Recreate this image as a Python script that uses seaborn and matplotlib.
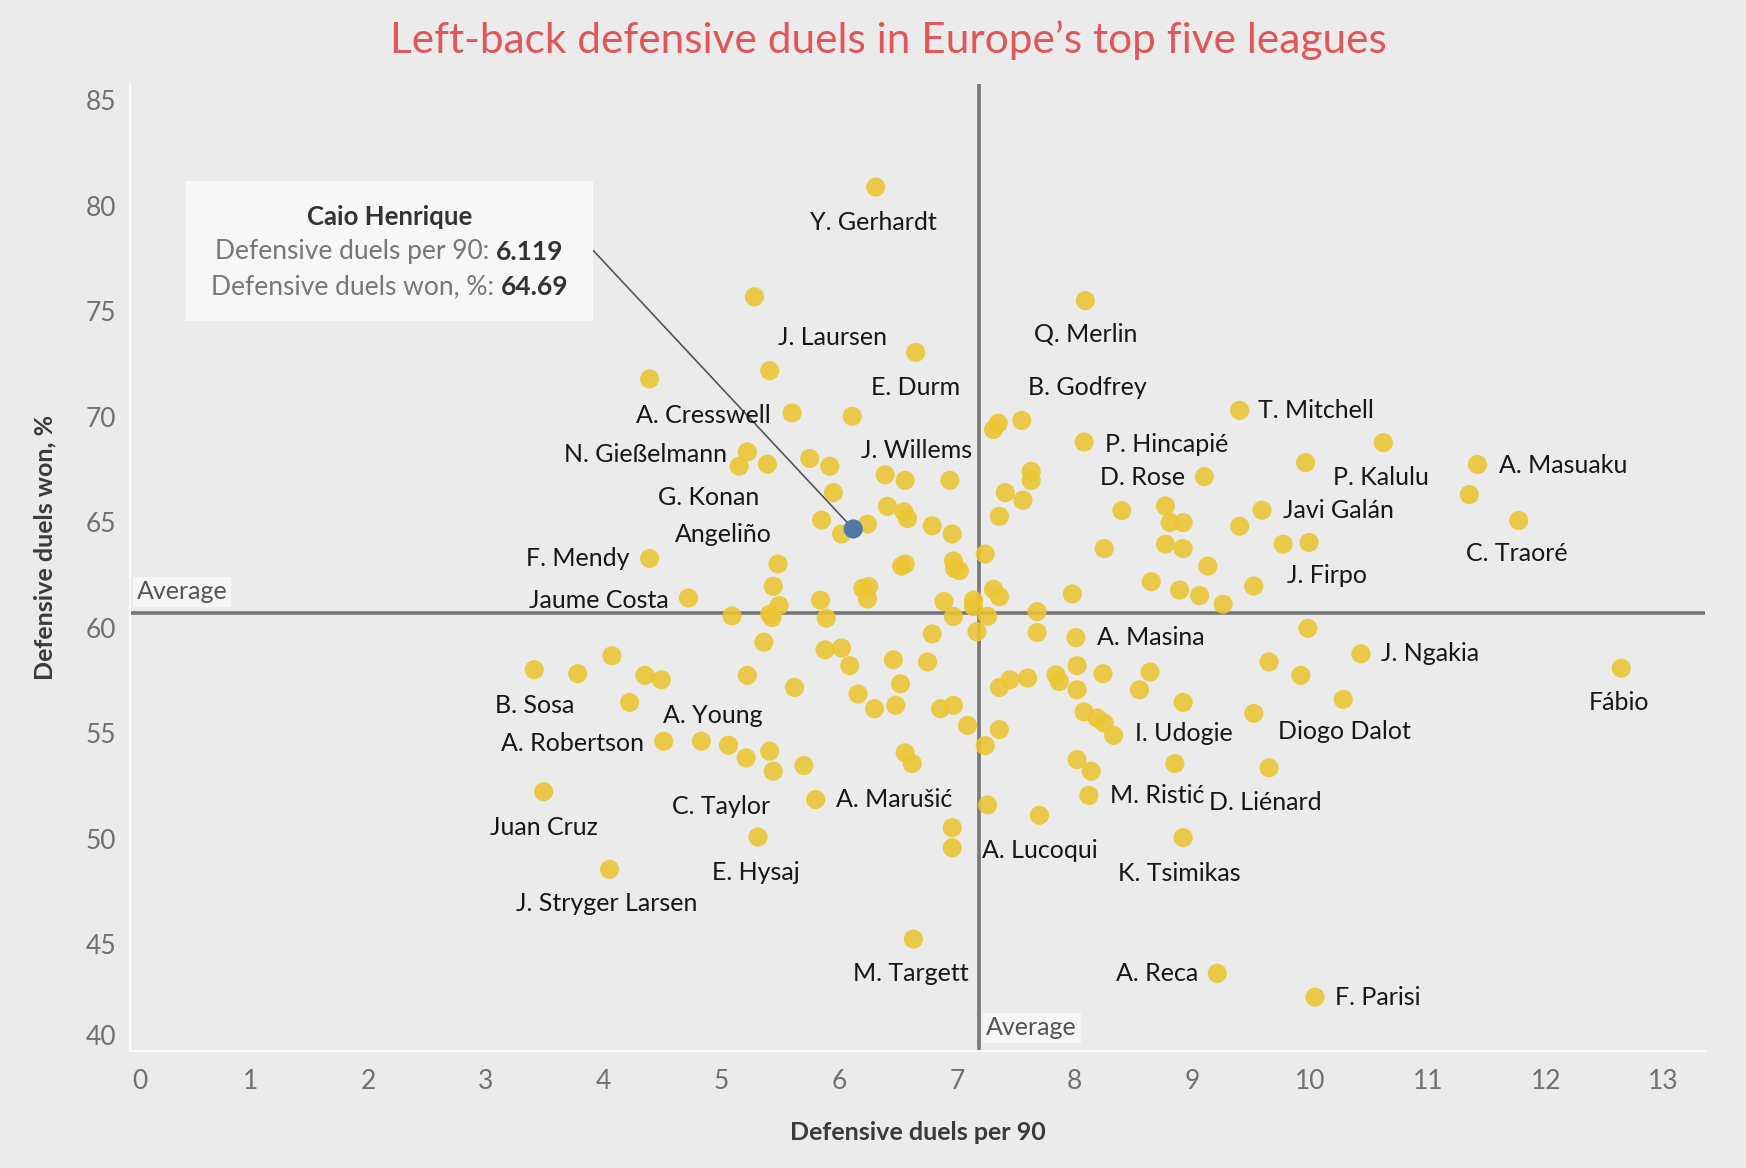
import numpy as np
import pandas as pd
import seaborn as sns
import matplotlib.pyplot as plt
import matplotlib.transforms as mtransforms
from matplotlib.patches import Rectangle

# players, 8 per row ('' = no label on the chart)
players = (
    ['Y. Gerhardt', '', 'Q. Merlin', '', 'J. Laursen', 'E. Durm', 'A. Cresswell', 'J. Willems']
    + ['', '', 'B. Godfrey', 'P. Hincapié', 'T. Mitchell', 'P. Kalulu', 'A. Masuaku', '']
    + ['D. Rose', '', 'C. Traoré', 'Javi Galán', '', '', '', 'J. Firpo']
    + ['', '', '', '', 'J. Ngakia', '', '', '']
    + ['Diogo Dalot', 'D. Liénard', 'Fábio', 'F. Parisi', 'A. Reca', 'K. Tsimikas', '', 'M. Ristić']
    + ['A. Lucoqui', '', '', '', 'M. Targett', '', '', 'I. Udogie']
    + [''] * 8
    + ['', 'A. Masina', '', '', '', '', '', '']
    + [''] * 48
    + ['', 'Angeliño', '', 'G. Konan', '', '', '', 'N. Gießelmann']
    + ['', '', '', '', '', '', '', 'Jaume Costa']
    + ['F. Mendy', '', '', '', '', '', '', '']
    + ['', '', '', '', '', '', 'A. Young', '']
    + ['', '', 'B. Sosa', '', 'A. Robertson', '', '', 'C. Taylor']
    + ['', '', '', 'A. Marušić', 'E. Hysaj', '', '', 'Juan Cruz']
    + ['J. Stryger Larsen']
)

duels_per90 = [
    6.31, 5.28, 8.09, 4.39, 5.41, 6.65, 5.60, 6.11,
    7.31, 7.35, 7.55, 8.08, 9.40, 10.62, 11.42, 9.96,
    9.10, 11.35, 11.77, 9.59, 9.40, 9.77, 9.99, 9.52,
    9.13, 9.06, 9.26, 9.98, 10.43, 9.65, 9.92, 10.28,
    9.52, 9.65, 12.64, 10.04, 9.21, 8.92, 8.85, 8.12,
    7.70, 7.26, 6.96, 6.96, 6.63, 8.02, 8.14, 8.33,
    8.25, 8.19, 8.08, 8.92, 8.55, 8.64, 8.24, 8.02,
    8.02, 8.01, 7.84, 7.87, 7.60, 7.45, 7.36, 7.68,
    7.68, 7.98, 8.65, 8.89, 8.25, 8.77, 8.92, 8.81,
    8.92, 8.77, 8.40, 7.63, 7.63, 7.41, 7.56, 7.36,
    7.24, 7.31, 7.36, 7.26, 7.14, 7.14, 7.17, 6.97,
    6.89, 6.97, 6.98, 7.02, 6.96, 6.94, 6.79, 6.79,
    6.75, 6.86, 6.97, 7.09, 7.36, 7.24, 6.56, 6.39,
    6.41, 6.55, 6.58, 6.53, 6.56, 6.24, 6.20, 6.25,
    6.24, 6.02, 5.85, 5.95, 5.92, 5.75, 5.39, 5.22,
    5.15, 5.48, 5.44, 5.49, 5.41, 5.43, 5.09, 4.72,
    4.39, 5.84, 5.89, 5.36, 5.88, 6.02, 6.09, 6.46,
    6.52, 5.22, 5.62, 6.16, 6.30, 6.48, 4.49, 4.35,
    4.07, 3.78, 3.41, 4.22, 4.51, 4.83, 5.06, 5.21,
    5.41, 5.44, 5.70, 5.80, 5.31, 6.56, 6.62, 3.49,
    4.05,
]

duels_won = [
    80.89, 75.69, 75.51, 71.80, 72.19, 73.06, 70.19, 70.03,
    69.40, 69.70, 69.83, 68.81, 70.31, 68.78, 67.74, 67.83,
    67.17, 66.32, 65.09, 65.58, 64.82, 63.97, 64.05, 61.98,
    62.93, 61.53, 61.12, 59.98, 58.77, 58.39, 57.75, 56.61,
    55.95, 53.37, 58.09, 42.50, 43.63, 50.06, 53.57, 52.06,
    51.12, 51.61, 50.53, 49.58, 45.25, 53.76, 53.21, 54.91,
    55.49, 55.73, 56.02, 56.47, 57.07, 57.91, 57.83, 57.07,
    58.21, 59.54, 57.78, 57.46, 57.62, 57.54, 57.18, 60.77,
    59.78, 61.61, 62.19, 61.79, 63.76, 63.97, 63.76, 64.99,
    64.99, 65.78, 65.56, 67.42, 66.99, 66.41, 66.05, 65.29,
    63.50, 61.83, 61.48, 60.55, 61.32, 61.01, 59.82, 60.54,
    61.25, 63.17, 62.82, 62.71, 64.45, 66.99, 64.84, 59.72,
    58.39, 56.17, 56.33, 55.38, 55.18, 54.42, 66.99, 67.26,
    65.76, 65.50, 65.18, 62.93, 63.03, 64.92, 61.87, 61.96,
    61.37, 64.45, 65.11, 66.41, 67.66, 68.03, 67.76, 68.34,
    67.66, 63.03, 61.97, 61.06, 60.65, 60.49, 60.57, 61.42,
    63.29, 61.32, 60.46, 59.32, 58.96, 59.05, 58.21, 58.49,
    57.35, 57.75, 57.18, 56.87, 56.17, 56.33, 57.54, 57.75,
    58.68, 57.83, 58.02, 56.47, 54.63, 54.63, 54.44, 53.84,
    54.16, 53.21, 53.48, 51.87, 50.09, 54.08, 53.57, 52.24,
    48.56,
]

highlight_name = 'Caio Henrique'
highlight_x = 6.119
highlight_y = 64.69

avg_x = 7.19
avg_y = 60.71

df = pd.DataFrame({'player': players, 'per90': duels_per90, 'won': duels_won})

# label placement: offset from the dot (pixels), alignment
label_pos = {
    'Y. Gerhardt': (-2, -32, 'center'), 'Q. Merlin': (0, -30, 'center'),
    'J. Laursen': (57, 30, 'center'), 'E. Durm': (0, -32, 'center'),
    'A. Cresswell': (-19, -2, 'right'), 'J. Willems': (58, -31, 'center'),
    'B. Godfrey': (59, 30, 'center'), 'P. Hincapié': (19, -2, 'left'),
    'T. Mitchell': (17, 0, 'left'), 'D. Rose': (-17, -1, 'right'),
    'P. Kalulu': (-2, -31, 'center'), 'A. Masuaku': (19, -1, 'left'),
    'N. Gießelmann': (-18, -2, 'right'), 'G. Konan': (-67, -4, 'right'),
    'Angeliño': (-63, 0, 'right'), 'F. Mendy': (-18, 0, 'right'),
    'Jaume Costa': (-18, -2, 'right'), 'A. Masina': (19, 0, 'left'),
    'J. Ngakia': (18, 0, 'left'), 'Fábio': (-2, -31, 'center'),
    'B. Sosa': (0, -32, 'center'), 'A. Young': (46, -32, 'center'),
    'Diogo Dalot': (22, -16, 'left'), 'I. Udogie': (19, 2, 'left'),
    'A. Robertson': (-18, -2, 'right'), 'C. Taylor': (-23, -44, 'center'),
    'A. Marušić': (18, 0, 'left'), 'M. Ristić': (19, 0, 'left'),
    'D. Liénard': (-3, -31, 'center'), 'Juan Cruz': (0, -32, 'center'),
    'E. Hysaj': (-2, -32, 'center'), 'A. Lucoqui': (0, -32, 'center'),
    'K. Tsimikas': (-3, -32, 'center'), 'J. Stryger Larsen': (-3, -31, 'center'),
    'M. Targett': (-2, -31, 'center'), 'A. Reca': (-17, 0, 'right'),
    'F. Parisi': (18, 0, 'left'), 'J. Firpo': (30, 10, 'left'),
    'Javi Galán': (19, 0, 'left'), 'C. Traoré': (-2, -30, 'center'),
}

bg = '#ebebeb'
sns.set_theme(style='white')
plt.rcParams['font.family'] = ['Lato', 'DejaVu Sans']

fig = plt.figure(figsize=(17.46, 11.68), dpi=100, facecolor=bg)
ax = fig.add_axes([0.0746, 0.1002, 0.9018, 0.8283])
ax.set_facecolor(bg)

ax.axvline(avg_x, color='#767676', lw=2.6, zorder=1)
ax.axhline(avg_y, color='#767676', lw=2.6, zorder=1)

sns.scatterplot(data=df, x='per90', y='won', color='#ecc531', s=190,
                edgecolor='none', alpha=0.88, zorder=3, ax=ax, legend=False)
ax.scatter([highlight_x], [highlight_y], color='#4e79a7', s=190, edgecolor='none', zorder=4)

for name, xv, yv in zip(players, duels_per90, duels_won):
    if not name:
        continue
    dx, dy, ha = label_pos[name]
    ax.annotate(name, (xv, yv), xytext=(dx * 1.11, dy * 1.11), textcoords='offset pixels',
                ha=ha, va='center', fontsize=18, color='#161616', zorder=5)

ax.set_xlim(-0.02, 13.35)
ax.set_ylim(39.95, 85.8)
ax.set_xticks(range(0, 14))
ax.set_yticks(range(40, 86, 5))

for side in ['top', 'right']:
    ax.spines[side].set_visible(False)
for side in ['left', 'bottom']:
    ax.spines[side].set_color('#f9f9f9')
    ax.spines[side].set_linewidth(1.5)
ax.tick_params(axis='both', colors='#f9f9f9', length=7, width=1.5, labelsize=19,
               labelcolor='#707070', direction='out')
ax.tick_params(axis='y', pad=3)
ax.tick_params(axis='x', pad=6)
ax.get_yticklabels()[0].set_va('bottom')
ax.get_xticklabels()[0].set_ha('left')
ax.grid(False)

ax.set_xlabel('Defensive duels per 90', fontsize=18, fontweight='bold', color='#3a3a3a')
ax.set_ylabel('Defensive duels won, %', fontsize=18, fontweight='bold', color='#3a3a3a')
ax.xaxis.set_label_coords(0.5, -0.072)
ax.yaxis.set_label_coords(-0.047, 0.52)

# "Average" tags on the reference lines
tr_h = mtransforms.blended_transform_factory(ax.transAxes, ax.transData)
ax.text(0.004, avg_y + 0.45, 'Average', transform=tr_h, ha='left', va='bottom',
        fontsize=18, color='#555555', zorder=6,
        bbox=dict(boxstyle='square,pad=0.15', fc='#f6f6f6', ec='none'))
tr_v = mtransforms.blended_transform_factory(ax.transData, ax.transAxes)
ax.text(avg_x + 0.06, 0.012, 'Average', transform=tr_v, ha='left', va='bottom',
        fontsize=18, color='#555555', zorder=6,
        bbox=dict(boxstyle='square,pad=0.15', fc='#f6f6f6', ec='none'))

fig.text(0.509, 0.966, 'Left-back defensive duels in Europe\u2019s top five leagues',
         ha='center', va='center', fontsize=30.5, color='#e15759')

# tooltip box for the highlighted player
fig.patches.append(Rectangle((0.1065, 0.7252), 0.2331, 0.1198, transform=fig.transFigure,
                             facecolor='#f7f7f7', edgecolor='none', zorder=5))
fig.text(0.223, 0.8142, highlight_name, ha='center', va='center', fontsize=18.5,
         fontweight='bold', color='#333333', zorder=6)
rows = [('Defensive duels per 90: ', f'{highlight_x:.3f}', 0.7845),
        ('Defensive duels won, %: ', f'{highlight_y:.2f}', 0.7545)]
for lab, val, yy in rows:
    t = fig.text(0.223, yy, lab + val, ha='center', va='center', fontsize=19, alpha=0)
    fig.canvas.draw()
    bb = t.get_window_extent().transformed(fig.transFigure.inverted())
    t.remove()
    t1 = fig.text(bb.x0, yy, lab, ha='left', va='center', fontsize=19, color='#777777', zorder=6)
    fig.canvas.draw()
    bb1 = t1.get_window_extent().transformed(fig.transFigure.inverted())
    fig.text(bb1.x1, yy, val, ha='left', va='center', fontsize=19,
             fontweight='bold', color='#333333', zorder=6)

ax.annotate('', xy=(highlight_x, highlight_y), xycoords='data',
            xytext=(0.3398, 0.7855), textcoords='figure fraction',
            arrowprops=dict(arrowstyle='-', color='#555555', lw=1.2, shrinkA=0, shrinkB=7),
            annotation_clip=False)

fig.savefig('out.png', dpi=100, facecolor=bg)
